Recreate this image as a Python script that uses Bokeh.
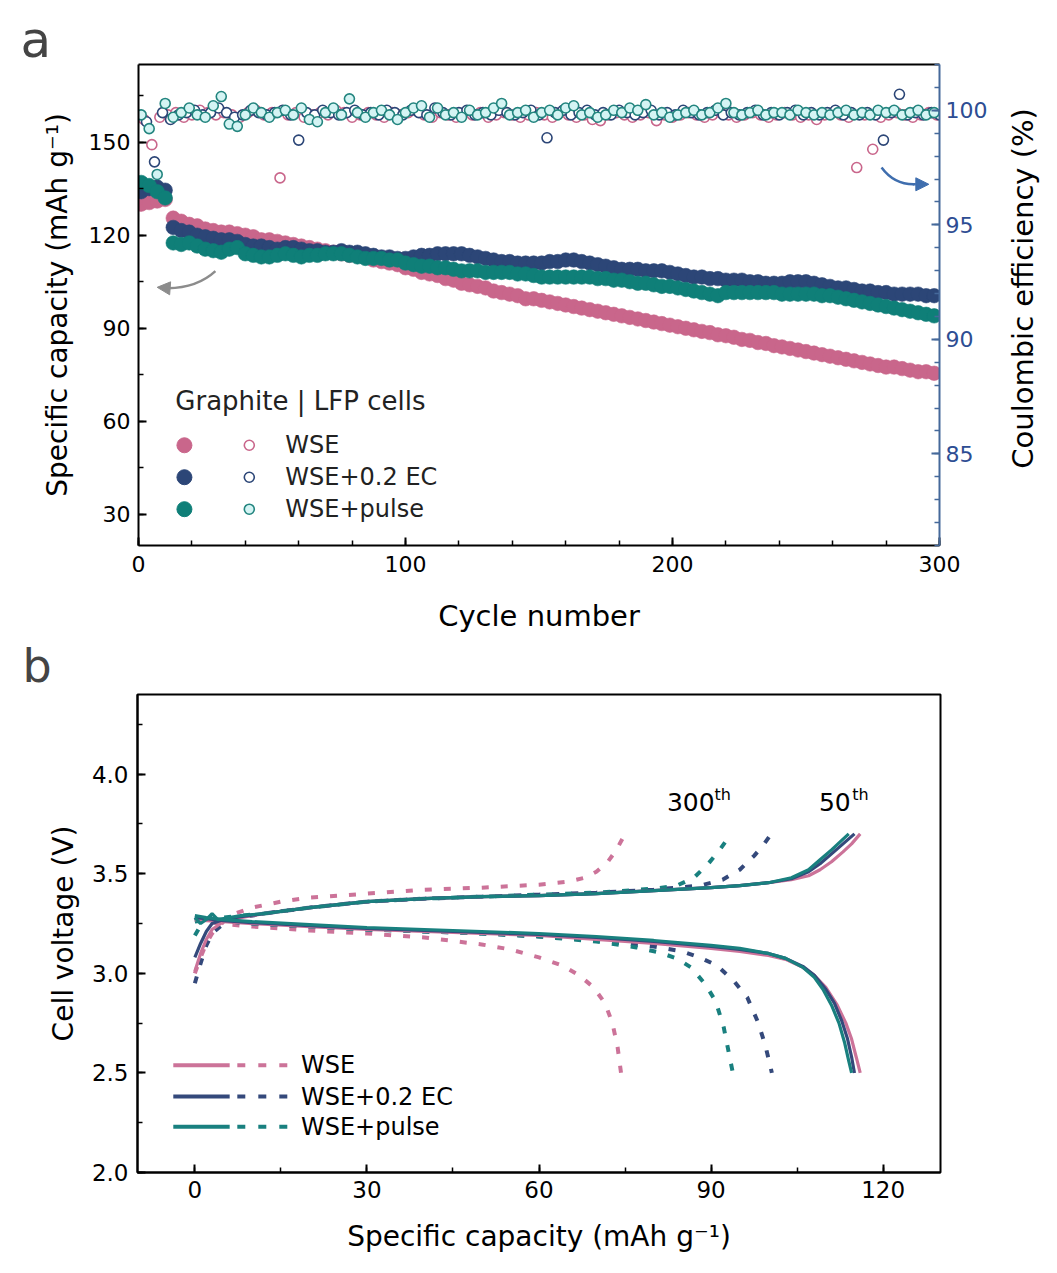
from math import pi
from bokeh.plotting import figure
from bokeh.models import (Range1d, LinearAxis, SingleIntervalTicker, Label, Arrow,
                          NormalHead, PrintfTickFormatter)
from bokeh.layouts import column, row
from bokeh.embed import file_html
from bokeh.resources import INLINE

# ---------------- data: panel a ----------------
cap_cycles = list(range(1, 301, 3))          # 1, 4, ..., 298
ce_cycles_wse = list(range(2, 301, 3))       # 2, 5, ..., 299
ce_cycles_ec = list(range(3, 301, 3))        # 3, 6, ..., 300
ce_cycles_pulse = list(range(1, 301, 3))     # 1, 4, ..., 298

cap_wse = [130, 130.5, 131, 131.5, 125.5, 124.5, 123.5, 123, 122, 121.5,
           121, 121, 120.5, 120, 119.5, 118.5, 118.5, 118, 117.5, 117,
           116.5, 116, 115.5, 115, 114.5, 114, 113.5, 113.5, 113, 112,
           111.5, 111, 110.5, 109.5, 109, 108, 107.5, 107, 106, 105.5,
           104.5, 104, 103.5, 103, 102, 101.5, 101, 100.5, 99.5, 99.5,
           99, 98.5, 98, 97.5, 97, 96.5, 96, 95.5, 95, 94.5,
           94, 93.5, 93, 92.5, 92, 91.5, 91, 90.5, 90, 89.5,
           89, 88.6, 87.9, 87.6, 87.1, 86.4, 86.1, 85.4, 85.1, 84.4,
           84, 83.5, 83, 82.5, 82, 81.5, 81, 80.5, 80, 79.5,
           79, 78.5, 78, 77.5, 77.5, 77, 76.5, 76, 76, 75.5]
cap_ec = [134, 135, 135.5, 134.5, 122.5, 121.5, 121, 120, 119.5, 119,
          118.5, 118.5, 118, 117, 116.5, 116.5, 116, 115.5, 116, 116,
          115.5, 115, 115, 114.5, 114.5, 115, 114.5, 114.5, 114, 113.5,
          113, 113, 112.5, 112.5, 113, 113.5, 113.5, 114, 114, 114,
          114, 113.5, 113, 112.5, 112, 111.5, 111.5, 111, 111, 111,
          111, 111.5, 111.5, 112, 112, 111.5, 111, 110.5, 110, 109.5,
          109, 109, 109, 108.5, 108.5, 108.5, 108, 107.5, 107, 106.5,
          106.5, 106, 106, 105.5, 105.5, 105.5, 105, 105, 104.5, 104.5,
          104.5, 105, 105, 105, 104.5, 104, 103.5, 103, 103, 102.5,
          102, 102, 101.5, 101.5, 101, 101, 101, 101, 100.5, 100.5]
cap_pulse = [137, 136, 134, 132, 117.5, 117, 117.5, 116.5, 115.5, 115,
             114.5, 115.5, 116, 114, 113.5, 113, 113, 113.5, 114, 113.5,
             113, 113.5, 113.5, 114, 114, 114, 113.5, 113, 112.5, 112.5,
             112.5, 112, 112, 111, 110.5, 110, 110, 109.5, 109.5, 109,
             108.5, 108.5, 108.5, 108, 108, 108, 108, 107.5, 107.5, 107,
             106.5, 106.5, 106.5, 106.5, 106.5, 106.5, 106.5, 106, 106, 105.5,
             105.5, 105, 104.5, 104.5, 104, 103.5, 103.5, 103, 102.5, 102,
             101.5, 101, 100.5, 101.5, 101.5, 101.5, 101.5, 101.5, 101.5, 101.5,
             101, 101, 101, 101, 101, 100.5, 100.5, 100, 99.5, 99,
             98.5, 98, 97.5, 97, 96.5, 96, 95.5, 95, 94.5, 94]

ce_wse = [99.6, 98.5, 99.7, 99.8, 99.9, 99.7, 99.8, 100.0, 99.9, 99.8,
          99.9, 99.8, 99.7, 99.9, 100.0, 99.8, 99.9, 97.05, 99.8, 99.9,
          99.7, 99.8, 99.9, 99.8, 100.0, 99.9, 99.7, 99.8, 99.9, 99.8,
          99.7, 99.9, 99.8, 99.9, 100.0, 99.8, 99.7, 99.9, 99.8, 99.7,
          99.9, 99.8, 99.9, 99.7, 99.8, 99.9, 99.8, 99.7, 99.8, 99.9,
          99.8, 99.7, 99.9, 99.8, 99.7, 99.8, 99.6, 99.55, 99.8, 99.9,
          99.8, 99.7, 99.8, 99.9, 99.55, 99.8, 99.7, 99.8, 99.9, 99.8,
          99.7, 99.8, 99.9, 99.8, 99.7, 99.8, 99.9, 99.8, 99.7, 99.8,
          99.9, 99.8, 99.7, 99.8, 99.6, 99.8, 99.9, 99.8, 99.7, 97.5,
          99.8, 98.3, 99.7, 99.8, 99.9, 99.8, 99.7, 99.8, 99.9, 99.8]
ce_ec = [99.5, 97.75, 99.9, 99.6, 99.8, 99.9, 100.0, 99.8, 99.9, 100.1,
         99.9, 99.7, 99.8, 100.0, 99.9, 99.8, 99.9, 100.0, 99.8, 98.7,
         99.9, 99.8, 100.0, 99.9, 99.8, 99.9, 100.0, 99.8, 99.9, 99.8,
         100.0, 99.9, 99.8, 100.0, 99.9, 99.8, 100.1, 99.9, 99.8, 99.9,
         100.0, 99.8, 99.9, 99.8, 100.0, 99.9, 99.8, 99.9, 100.0, 99.8,
         98.8, 99.9, 100.0, 99.8, 99.9, 100.0, 99.8, 99.9, 99.8, 100.0,
         99.9, 99.8, 99.9, 100.0, 99.8, 99.9, 99.8, 100.0, 99.9, 99.8,
         99.9, 100.0, 99.8, 99.9, 99.8, 99.9, 100.0, 99.8, 99.9, 99.8,
         99.9, 100.0, 99.8, 99.9, 99.8, 99.9, 100.0, 99.8, 99.9, 99.8,
         99.9, 99.8, 98.7, 99.9, 100.7, 99.8, 99.9, 99.8, 99.9, 99.8]
ce_pulse = [99.8, 99.2, 97.2, 100.3, 99.7, 99.9, 100.1, 99.8, 99.7, 100.2,
            100.6, 99.4, 99.3, 99.8, 100.1, 99.9, 99.7, 99.9, 100.0, 99.8,
            100.1, 99.6, 99.5, 99.9, 100.1, 99.8, 100.5, 99.9, 99.7, 99.9,
            100.0, 99.8, 99.6, 99.9, 100.1, 100.2, 99.7, 100.1, 99.8, 99.9,
            99.7, 100.0, 99.8, 99.9, 100.1, 100.3, 99.8, 99.9, 100.0, 99.7,
            99.9, 100.0, 99.8, 100.1, 100.2, 99.8, 99.9, 99.7, 99.8, 100.0,
            99.9, 100.1, 100.0, 100.25, 99.8, 99.9, 99.7, 99.8, 99.9, 100.0,
            99.8, 99.9, 100.1, 100.3, 99.9, 99.8, 99.9, 100.0, 99.8, 99.9,
            99.9, 99.8, 100.0, 99.9, 99.8, 99.9, 99.8, 99.9, 100.0, 99.8,
            99.9, 99.8, 100.0, 99.9, 100.0, 99.8, 99.9, 100.0, 99.8, 99.9]

series_names = ["WSE", "WSE+0.2 EC", "WSE+pulse"]

# ---------------- data: panel b ----------------
# 50th cycle (solid), charge
wse50_chg_q = [0, 1, 2, 3, 5, 8, 12, 20, 30, 40, 50, 60, 70, 80, 90, 95, 100, 104, 107, 109, 111, 113, 114.5, 116]
wse50_chg_v = [3.01, 3.10, 3.17, 3.22, 3.26, 3.28, 3.30, 3.33, 3.36, 3.375, 3.385, 3.39, 3.40, 3.415, 3.43, 3.44, 3.455, 3.47, 3.49, 3.52, 3.56, 3.61, 3.65, 3.70]
ec50_chg_q = [0, 1, 2, 3, 5, 8, 12, 20, 30, 40, 50, 60, 70, 80, 90, 95, 100, 104, 107, 109, 111, 113, 115]
ec50_chg_v = [3.08, 3.15, 3.21, 3.25, 3.27, 3.285, 3.30, 3.33, 3.36, 3.375, 3.385, 3.39, 3.40, 3.415, 3.43, 3.44, 3.455, 3.475, 3.51, 3.55, 3.60, 3.65, 3.70]
pulse50_chg_q = [0, 1, 2, 3, 4, 6, 8, 12, 20, 30, 40, 50, 60, 70, 80, 90, 95, 100, 104, 107, 109, 111, 114]
pulse50_chg_v = [3.28, 3.25, 3.27, 3.30, 3.27, 3.28, 3.29, 3.30, 3.33, 3.36, 3.375, 3.385, 3.39, 3.40, 3.415, 3.43, 3.44, 3.455, 3.48, 3.52, 3.57, 3.62, 3.70]
# 50th cycle (solid), discharge
wse50_dis_q = [0, 2, 5, 10, 20, 30, 40, 50, 60, 70, 80, 90, 95, 100, 103, 106, 108, 110, 112, 113.5, 114.5, 115.3, 116]
wse50_dis_v = [3.27, 3.265, 3.26, 3.25, 3.235, 3.22, 3.21, 3.20, 3.19, 3.17, 3.15, 3.125, 3.11, 3.09, 3.07, 3.03, 2.99, 2.93, 2.84, 2.75, 2.67, 2.58, 2.50]
ec50_dis_q = [0, 2, 5, 10, 20, 30, 40, 50, 60, 70, 80, 90, 95, 100, 103, 106, 108, 110, 111.5, 112.8, 113.8, 114.5, 115]
ec50_dis_v = [3.28, 3.275, 3.265, 3.255, 3.24, 3.225, 3.215, 3.205, 3.195, 3.18, 3.16, 3.135, 3.12, 3.10, 3.075, 3.035, 2.99, 2.92, 2.85, 2.76, 2.67, 2.58, 2.50]
pulse50_dis_q = [0, 2, 5, 10, 20, 30, 40, 50, 60, 70, 80, 90, 95, 100, 103, 106, 108, 109.5, 111, 112.3, 113.3, 114, 114.5]
pulse50_dis_v = [3.29, 3.28, 3.27, 3.26, 3.245, 3.23, 3.22, 3.21, 3.20, 3.185, 3.165, 3.14, 3.125, 3.10, 3.075, 3.03, 2.98, 2.92, 2.84, 2.75, 2.65, 2.56, 2.50]
# 300th cycle (dotted), charge
wse300_chg_q = [0, 1, 2, 3, 5, 7, 10, 15, 20, 30, 40, 50, 60, 65, 68, 70, 72, 73.5, 75]
wse300_chg_v = [3.00, 3.08, 3.15, 3.20, 3.26, 3.30, 3.33, 3.36, 3.38, 3.40, 3.42, 3.43, 3.445, 3.46, 3.48, 3.51, 3.56, 3.62, 3.70]
ec300_chg_q = [0, 1, 2, 3, 5, 8, 12, 20, 30, 40, 50, 60, 70, 80, 88, 92, 95, 97.5, 99, 100.5]
ec300_chg_v = [2.95, 3.05, 3.14, 3.20, 3.25, 3.28, 3.30, 3.33, 3.36, 3.375, 3.385, 3.395, 3.405, 3.42, 3.44, 3.47, 3.52, 3.59, 3.64, 3.70]
pulse300_chg_q = [0, 1, 2, 3, 5, 8, 12, 20, 30, 40, 50, 60, 70, 80, 84, 87, 89.5, 91.5, 93.5]
pulse300_chg_v = [3.19, 3.24, 3.27, 3.28, 3.28, 3.29, 3.30, 3.33, 3.36, 3.375, 3.385, 3.395, 3.405, 3.425, 3.44, 3.48, 3.55, 3.62, 3.70]
# 300th cycle (dotted), discharge
wse300_dis_q = [0, 3, 6, 10, 15, 20, 30, 40, 50, 55, 60, 64, 67, 69.5, 71.5, 72.8, 73.7, 74.3]
wse300_dis_v = [3.27, 3.255, 3.245, 3.235, 3.225, 3.215, 3.20, 3.18, 3.145, 3.12, 3.08, 3.04, 2.99, 2.93, 2.85, 2.75, 2.63, 2.50]
ec300_dis_q = [0, 3, 6, 10, 20, 30, 40, 50, 60, 70, 80, 85, 88, 91, 94, 96.3, 98.1, 99.4, 100.2, 100.6]
ec300_dis_v = [3.28, 3.27, 3.26, 3.25, 3.235, 3.22, 3.21, 3.20, 3.185, 3.165, 3.135, 3.11, 3.08, 3.04, 2.96, 2.88, 2.76, 2.645, 2.55, 2.50]
pulse300_dis_q = [0, 3, 6, 10, 20, 30, 40, 50, 60, 70, 77, 81, 84, 86.5, 89, 90.8, 92.2, 93.1, 93.8]
pulse300_dis_v = [3.26, 3.27, 3.26, 3.25, 3.235, 3.22, 3.21, 3.20, 3.185, 3.16, 3.13, 3.105, 3.075, 3.03, 2.945, 2.86, 2.73, 2.60, 2.50]

# ---------------- styles ----------------
PINK, NAVY, TEAL = "#c9668b", "#2c4677", "#0f7f78"
PINK_L, NAVY_L, TEAL_L = "#cc7399", "#34497b", "#19807f"
CE_TEAL_LINE, CE_TEAL_FILL = "#23857f", "#d4f4f4"
BLUE_AX, BLUE_LBL = "#45699a", "#2d4d93"
F = "DejaVu Sans"
DOT = "7 12"


def style_axis(ax, size, color="black"):
    ax.axis_line_width = 2
    ax.axis_line_color = color
    ax.major_tick_line_color = color
    ax.minor_tick_line_color = color
    ax.major_tick_line_width = 2
    ax.minor_tick_line_width = 1.5
    ax.major_tick_in = 8
    ax.major_tick_out = 0
    ax.minor_tick_in = 5
    ax.minor_tick_out = 0
    ax.major_label_text_font = F
    ax.major_label_text_font_size = size
    ax.major_label_text_color = color
    ax.axis_label_text_font = F
    ax.axis_label_text_font_style = "normal"
    ax.axis_label_text_color = "black"


# ---------------- panel a ----------------
H1 = 638
p1 = figure(width=1000, height=H1, x_range=Range1d(0, 300), y_range=Range1d(20, 175),
            output_backend="svg", toolbar_location=None,
            min_border_left=138, min_border_right=61, min_border_top=64, min_border_bottom=93)
p1.extra_y_ranges = {"ce": Range1d(81, 102)}
p1.grid.visible = False
p1.outline_line_color = None
p1.title.text = "a"
p1.title.text_font = F
p1.title.text_font_size = "50px"
p1.title.text_font_style = "normal"
p1.title.align = "left"
p1.title.offset = -118
p1.title.standoff = -8

p1.xaxis.ticker = SingleIntervalTicker(interval=100, num_minor_ticks=5)
p1.yaxis.ticker = SingleIntervalTicker(interval=30, num_minor_ticks=2)
style_axis(p1.xaxis[0], "22px")
style_axis(p1.yaxis[0], "22px")
p1.xaxis.axis_label = "Cycle number"
p1.xaxis.axis_label_text_font_size = "29px"
p1.xaxis.major_label_standoff = 10
p1.xaxis.axis_label_standoff = 24
p1.yaxis.axis_label = "Specific capacity (mAh g\u207b\u00b9)"
p1.yaxis.axis_label_text_font_size = "28px"
p1.yaxis.major_label_standoff = 8
p1.yaxis.axis_label_standoff = 12

ax_r = LinearAxis(y_range_name="ce", ticker=SingleIntervalTicker(interval=5, num_minor_ticks=5))
style_axis(ax_r, "22px", BLUE_AX)
ax_r.major_label_text_color = BLUE_LBL
ax_r.major_label_standoff = 6
p1.add_layout(ax_r, "right")

ax_top = LinearAxis(major_tick_in=0, major_tick_out=0, minor_tick_in=0, minor_tick_out=0,
                    major_label_text_font_size="0px", major_label_standoff=0,
                    axis_line_width=2, axis_line_color="black")
ax_top.major_label_text_alpha = 0
p1.add_layout(ax_top, "above")

caps = [cap_wse, cap_ec, cap_pulse]
for vals, col in zip(caps, [PINK, NAVY, TEAL]):
    p1.scatter(cap_cycles, vals, size=14.5, fill_color=col, line_color=col, line_alpha=0.6)

p1.scatter(ce_cycles_wse, ce_wse, y_range_name="ce", size=10, fill_color="white",
           line_color=PINK, line_width=1.6)
p1.scatter(ce_cycles_ec, ce_ec, y_range_name="ce", size=10, fill_color="white",
           line_color=NAVY, line_width=1.6)
p1.scatter(ce_cycles_pulse, ce_pulse, y_range_name="ce", size=10, fill_color=CE_TEAL_FILL,
           line_color=CE_TEAL_LINE, line_width=1.6)

# arrows
p1.quadratic(x0=[28.8], y0=[108.4], x1=[11.0], y1=[102.9], cx=[22.0], cy=[103.0],
             line_color="#8c8c8c", line_width=2.5)
p1.add_layout(Arrow(end=NormalHead(size=13, fill_color="#8c8c8c", line_color="#8c8c8c"),
                    x_start=11.5, y_start=102.9, x_end=7.0, y_end=103.2,
                    line_color="#8c8c8c", line_width=2.5))
p1.quadratic(x0=[278.3], y0=[141.8], x1=[290.5], y1=[136.4], cx=[283.0], cy=[136.3],
             line_color="#3f6eae", line_width=2.5)
p1.add_layout(Arrow(end=NormalHead(size=13, fill_color="#3f6eae", line_color="#3f6eae"),
                    x_start=290.0, y_start=136.4, x_end=296.0, y_end=136.4,
                    line_color="#3f6eae", line_width=2.5))

# legend (manual)
p1.add_layout(Label(x=13.8, y=66.5, text="Graphite | LFP cells", text_font=F,
                    text_font_size="26px", text_baseline="middle", text_color="#222222"))
leg_y = [52.3, 42.0, 31.7]
ce_fill = ["white", "white", CE_TEAL_FILL]
ce_line = [PINK, NAVY, CE_TEAL_LINE]
for name, yy, col, cf, cl in zip(series_names, leg_y, [PINK, NAVY, TEAL], ce_fill, ce_line):
    p1.scatter([17.2], [yy], size=15, fill_color=col, line_color=col)
    p1.scatter([41.5], [yy], size=10, fill_color=cf, line_color=cl, line_width=1.6)
    p1.add_layout(Label(x=55.0, y=yy, text=name, text_font=F, text_font_size="24px",
                        text_baseline="middle", text_color="#222222"))

# right-hand axis title, drawn in a narrow companion canvas (reads bottom-to-top)
plab = figure(width=57, height=H1, x_range=Range1d(0, 57), y_range=Range1d(0, H1),
              output_backend="svg", toolbar_location=None, min_border=0,
              x_axis_type=None, y_axis_type=None)
plab.grid.visible = False
plab.outline_line_color = None
plab.add_layout(Label(x=22, y=H1 - 297, text="Coulombic efficiency (%)", angle=pi / 2,
                      text_font=F, text_font_size="29px", text_align="center",
                      text_baseline="middle", text_color="black"))

# ---------------- panel b ----------------
p2 = figure(width=1057, height=629, x_range=Range1d(-10, 130), y_range=Range1d(2.0, 4.4),
            output_backend="svg", toolbar_location=None,
            min_border_left=137, min_border_right=117, min_border_top=54, min_border_bottom=95)
p2.grid.visible = False
p2.outline_line_color = "black"
p2.outline_line_width = 2
p2.title.text = "b"
p2.title.text_font = F
p2.title.text_font_size = "46px"
p2.title.text_font_style = "normal"
p2.title.align = "left"
p2.title.offset = -115
p2.title.standoff = 0
p2.title.vertical_align = "top"

p2.xaxis.ticker = SingleIntervalTicker(interval=30, num_minor_ticks=2)
p2.yaxis.ticker = SingleIntervalTicker(interval=0.5, num_minor_ticks=2)
p2.yaxis.formatter = PrintfTickFormatter(format="%.1f")
style_axis(p2.xaxis[0], "23px")
style_axis(p2.yaxis[0], "23px")
p2.xaxis.axis_label = "Specific capacity (mAh g\u207b\u00b9)"
p2.xaxis.axis_label_text_font_size = "28px"
p2.xaxis.major_label_standoff = 8
p2.xaxis.axis_label_standoff = 19
p2.yaxis.axis_label = "Cell voltage (V)"
p2.yaxis.axis_label_text_font_size = "28px"
p2.yaxis.major_label_standoff = 9
p2.yaxis.axis_label_standoff = 9

solid = [(wse50_chg_q, wse50_chg_v, wse50_dis_q, wse50_dis_v, PINK_L),
         (ec50_chg_q, ec50_chg_v, ec50_dis_q, ec50_dis_v, NAVY_L),
         (pulse50_chg_q, pulse50_chg_v, pulse50_dis_q, pulse50_dis_v, TEAL_L)]
dotted = [(wse300_chg_q, wse300_chg_v, wse300_dis_q, wse300_dis_v, PINK_L),
          (ec300_chg_q, ec300_chg_v, ec300_dis_q, ec300_dis_v, NAVY_L),
          (pulse300_chg_q, pulse300_chg_v, pulse300_dis_q, pulse300_dis_v, TEAL_L)]
for cq, cv, dq, dv, col in dotted:
    p2.line(cq, cv, line_color=col, line_width=4, line_dash=DOT)
    p2.line(dq, dv, line_color=col, line_width=4, line_dash=DOT)
for cq, cv, dq, dv, col in solid:
    p2.line(cq, cv, line_color=col, line_width=3.2)
    p2.line(dq, dv, line_color=col, line_width=3.2)

# legend b (manual)
legb_y = [2.5385, 2.3815, 2.23]
for name, yy, col in zip(series_names, legb_y, [PINK_L, NAVY_L, TEAL_L]):
    p2.line([-3.76, 6.07], [yy, yy], line_color=col, line_width=4)
    p2.line([7.4, 16.5], [yy, yy], line_color=col, line_width=4, line_dash="8 13")
    p2.add_layout(Label(x=18.5, y=yy, text=name, text_font=F, text_font_size="24px",
                        text_baseline="middle", text_color="black"))

p2.add_layout(Label(x=82.3, y=3.86, text="300", text_font=F, text_font_size="25px",
                    text_baseline="middle", text_color="black"))
p2.add_layout(Label(x=90.6, y=3.90, text="th", text_font=F, text_font_size="16px",
                    text_baseline="middle", text_color="black"))
p2.add_layout(Label(x=108.8, y=3.86, text="50", text_font=F, text_font_size="25px",
                    text_baseline="middle", text_color="black"))
p2.add_layout(Label(x=114.6, y=3.90, text="th", text_font=F, text_font_size="16px",
                    text_baseline="middle", text_color="black"))

layout = column(row(p1, plab, spacing=0), p2, spacing=0)
open("out.html", "w").write(file_html(layout, INLINE))
